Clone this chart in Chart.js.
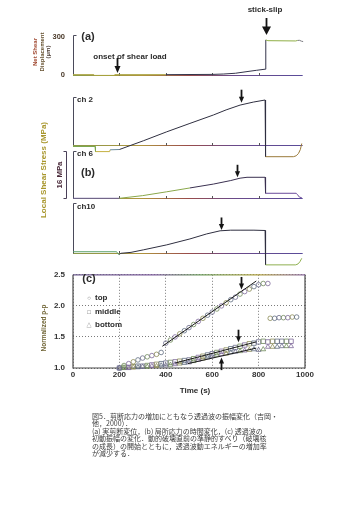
<!DOCTYPE html>
<html lang="ja">
<head>
<meta charset="utf-8">
<title>剪断応力の増加にともなう透過波の振幅変化</title>
<script src="https://cdn.jsdelivr.net/npm/chart.js@4.4.1/dist/chart.umd.min.js"></script>
<style>
  html, body { margin: 0; padding: 0; background: #fff; }
  #fig { position: relative; width: 338px; height: 507px; overflow: hidden;
         font-family: "Liberation Sans", Arial, sans-serif; font-weight: bold; color: #2b2b2b; }
  #fig canvas { position: absolute; }
  .lbl { position: absolute; white-space: nowrap; line-height: 1; }
  .mid { transform: translate(-50%, -50%); }
  .rot { transform: translate(-50%, -50%) rotate(-90deg); }
  .vl  { transform: translateY(-50%); }
  #caption { position: absolute; left: 92px; top: 413px; white-space: nowrap;
             font-family: "Noto Sans CJK JP", sans-serif; font-weight: 400;
             font-size: 7px; line-height: 7.45px; color: #3c3c3c; }
</style>
</head>
<body>
<div id="fig">
  <!-- panel (a) -->
  <div class="lbl mid" style="left:265px;top:10px;font-size:8px">stick-slip</div>
  <div class="lbl mid" style="left:130px;top:57px;font-size:8px">onset of shear load</div>
  <div class="lbl mid" style="left:88px;top:36px;font-size:11px">(a)</div>
  <div class="lbl rot" style="left:42px;top:52px;font-size:6px;line-height:6.7px;text-align:center">
    <span style="color:#a04830">Net Shear</span><br><span style="color:#65502e">Displacement</span><br><span style="color:#4a3a30">(µm)</span>
  </div>

  <!-- panel (b) -->
  <div class="lbl vl" style="left:77px;top:100px;font-size:8px">ch 2</div>
  <div class="lbl vl" style="left:77px;top:154px;font-size:8px">ch 6</div>
  <div class="lbl mid" style="left:88px;top:172px;font-size:11px">(b)</div>
  <div class="lbl vl" style="left:77px;top:207px;font-size:8px">ch10</div>
  <div class="lbl rot" style="left:60px;top:175px;font-size:7.8px;color:#4a2a3a">16 MPa</div>
  <div class="lbl rot" style="left:44px;top:170px;font-size:8px;color:#a8962c">Local Shear Stress (MPa)</div>

  <!-- panel (c) -->
  <div class="lbl mid" style="left:89px;top:278px;font-size:11px">(c)</div>
  <div class="lbl mid" style="left:89px;top:298px;font-size:6px;font-weight:normal;color:#555">○</div>
  <div class="lbl vl" style="left:95px;top:298px;font-size:8px">top</div>
  <div class="lbl mid" style="left:89px;top:311.5px;font-size:6px;font-weight:normal;color:#555">□</div>
  <div class="lbl vl" style="left:95px;top:311.5px;font-size:8px">middle</div>
  <div class="lbl mid" style="left:89px;top:324.5px;font-size:6px;font-weight:normal;color:#555">△</div>
  <div class="lbl vl" style="left:95px;top:324.5px;font-size:8px">bottom</div>
  <div class="lbl rot" style="left:44px;top:328px;font-size:6.5px;color:#6f6434">Normalized p-p</div>
  <div class="lbl mid" style="left:195px;top:391px;font-size:8px">Time (s)</div>

  <div id="caption">図5．剪断応力の増加にともなう透過波の振幅変化（吉岡・<br>他，2000）．<br>(a) 実剪断変位，(b) 局所応力の時間変化，(c) 透過波の<br>初動振幅の変化．動的破壊直前の準静的すべり（破壊核<br>の成長）の開始とともに，透過波動エネルギーの増加率<br>が減少する．</div>
</div>

<script>
// ---------- time axis (s) ----------
const timeTicks = [0, 200, 400, 600, 800, 1000];
const baseTicks = [200, 400, 600, 800];

// ---------- (a) net shear displacement (µm) ----------
const dispTicks = [0, 300];
const dispTime  = [0, 90, 92, 178, 180, 400, 600, 650, 700, 750, 790, 828, 831, 840, 960, 968, 976, 985, 992];
const dispValue = [0, 0, -6, -6, 0, 0, 2, 5, 11, 24, 34, 43, 274, 268, 266, 270, 271, 264, 261];

// ---------- (b) local shear stress (MPa) ----------
const ch2Time   = [0, 95, 97, 158, 160, 200, 303, 404, 504, 605, 660, 720, 777, 828, 830, 950, 962, 972, 980, 986];
const ch2Stress = [-0.5, -0.5, -2.2, -2.2, -1.6, -1.5, 1.4, 4.4, 7.2, 10.0, 11.7, 13.3, 14.3, 15.0, -3.9, -3.9, -3.6, -2.8, -1.5, 0.5];
const ch6Time   = [0, 200, 300, 404, 504, 605, 680, 720, 750, 828, 830, 962, 968, 976, 986];
const ch6Stress = [0, 0, 0.9, 2.2, 3.5, 4.8, 6.0, 6.8, 7.1, 7.1, 1.7, 1.7, 1.2, 0.4, 0.2];
const ch10Time   = [0, 188, 194, 200, 206, 250, 303, 404, 504, 576, 634, 680, 720, 780, 828, 830, 960, 970, 978, 986];
const ch10Stress = [0.5, 0.5, -0.2, -0.4, 0.0, 0.3, 1.1, 2.7, 4.6, 6.2, 7.2, 7.4, 7.4, 7.4, 7.3, -3.7, -3.7, -3.4, -2.7, -1.6];
const scaleBarMPa = 16;

// ---------- (c) normalized peak-to-peak amplitude ----------
const ppTicks = [1.0, 1.5, 2.0, 2.5];
const topTime = [200, 220, 240, 260, 280, 300, 320, 340, 360, 380, 400, 420, 440, 460, 480, 500, 520,
                 540, 560, 580, 600, 620, 640, 660, 680, 700, 720, 740, 760, 780, 800, 820, 840,
                 850, 869, 888, 907, 926, 945, 964];
const topAmp  = [1.00, 1.04, 1.07, 1.10, 1.13, 1.16, 1.18, 1.20, 1.22, 1.25, 1.40, 1.45, 1.50, 1.55, 1.60, 1.65, 1.70,
                 1.75, 1.80, 1.85, 1.90, 1.95, 2.00, 2.05, 2.10, 2.14, 2.19, 2.23, 2.27, 2.31, 2.34, 2.36, 2.36,
                 1.80, 1.80, 1.81, 1.81, 1.81, 1.82, 1.82];
const midTime = [200, 220, 240, 260, 280, 300, 320, 340, 360, 380, 400, 420, 440, 460, 480, 500, 520, 540, 560,
                 580, 600, 620, 640, 660, 680, 700, 720, 740, 760, 780, 800, 820, 840, 860, 880, 900, 920, 940];
const midAmp  = [1.00, 1.01, 1.01, 1.02, 1.03, 1.03, 1.04, 1.05, 1.06, 1.07, 1.08, 1.09, 1.10, 1.11, 1.12, 1.13, 1.15, 1.17, 1.19,
                 1.21, 1.23, 1.25, 1.27, 1.29, 1.31, 1.33, 1.35, 1.37, 1.39, 1.40, 1.42, 1.43, 1.42, 1.43, 1.43, 1.43, 1.43, 1.43];
const botTime = [200, 220, 240, 260, 280, 300, 320, 340, 360, 380, 400, 420, 440, 460, 480, 500, 520, 540, 560,
                 580, 600, 620, 640, 660, 680, 700, 720, 740, 760, 780, 800, 820, 840, 860, 880, 900, 920, 940];
const botAmp  = [1.00, 1.00, 1.00, 1.01, 1.01, 1.02, 1.02, 1.03, 1.03, 1.04, 1.04, 1.05, 1.06, 1.07, 1.08, 1.09, 1.11, 1.13, 1.15,
                 1.17, 1.19, 1.21, 1.22, 1.23, 1.25, 1.26, 1.27, 1.28, 1.29, 1.30, 1.29, 1.30, 1.34, 1.34, 1.34, 1.35, 1.35, 1.35];
const topFitTime = [385, 790],  topFitAmp = [1.35, 2.40];
const midFitTime = [440, 790],  midFitAmp = [1.08, 1.42];
const botFitTime = [495, 790],  botFitAmp = [1.07, 1.32];

// ---------- event times (s) ----------
const onsetTime = 190, slipTime = 832;
const stressArrowTime = [723, 708, 636];   // ch2, ch6, ch10
const ppArrowTime = [724, 710, 636];       // top, middle, bottom

// ---------- drawing ----------
Chart.defaults.font.family = '"Liberation Sans", Arial, sans-serif';
Chart.defaults.font.weight = 'bold';
Chart.defaults.font.size = 8;
Chart.defaults.color = '#333';

const fig = document.getElementById('fig');
const CANVAS_LEFT = 40, CANVAS_WIDTH = 280, PLOT_LEFT = 73, PLOT_RIGHT = 305;
const AXIS_W = PLOT_LEFT - CANVAS_LEFT, RIGHT_PAD = CANVAS_LEFT + CANVAS_WIDTH - PLOT_RIGHT;
const baselineStops = [[0, '#8a9a4a'], [0.3, '#b0943e'], [0.5, '#9a4c4a'], [0.7, '#6a4a8a'], [1, '#5a4c9a']];

function pts(xs, ys) { return xs.map((x, i) => ({ x, y: ys[i] })); }

function addCanvas(top, height) {
  const c = document.createElement('canvas');
  c.width = CANVAS_WIDTH; c.height = height;
  c.style.left = CANVAS_LEFT + 'px'; c.style.top = top + 'px';
  c.style.width = CANVAS_WIDTH + 'px'; c.style.height = height + 'px';
  fig.insertBefore(c, fig.firstChild);
  return c;
}

function bandColor(bands) {
  return ctx => {
    const x = ctx.p0.parsed.x;
    let col = bands[0][1];
    for (const [from, c] of bands) if (x >= from) col = c;
    return col;
  };
}

function drawArrow(ctx, x, yTip, dir, len, head, half) {
  ctx.fillStyle = '#151515'; ctx.strokeStyle = '#151515'; ctx.lineWidth = 1.8;
  ctx.beginPath(); ctx.moveTo(x, yTip - dir * len); ctx.lineTo(x, yTip - dir * (head - 1)); ctx.stroke();
  ctx.beginPath(); ctx.moveTo(x, yTip); ctx.lineTo(x - half, yTip - dir * head); ctx.lineTo(x + half, yTip - dir * head);
  ctx.closePath(); ctx.fill();
}

// axis decorations: zero line with small time ticks, "[" bracket, scale bar, plot box, arrows
function decorPlugin(cfg) {
  return {
    id: 'decor',
    beforeDatasetsDraw(chart) {
      const { ctx } = chart, xs = chart.scales.x, ys = chart.scales.y;
      ctx.save();
      ctx.lineWidth = 1;
      if (cfg.baseline) {
        const y0 = Math.round(ys.getPixelForValue(0)) + 0.5;
        const xa = xs.getPixelForValue(0), xb = xs.getPixelForValue(cfg.baseline);
        const g = ctx.createLinearGradient(xa, 0, xb, 0);
        baselineStops.forEach(([o, c]) => g.addColorStop(o, c));
        ctx.strokeStyle = g;
        ctx.beginPath(); ctx.moveTo(xa, y0); ctx.lineTo(xb, y0); ctx.stroke();
        ctx.strokeStyle = '#555';
        (cfg.ticks || []).forEach(t => {
          const x = Math.round(xs.getPixelForValue(t)) + 0.5;
          ctx.beginPath(); ctx.moveTo(x, y0); ctx.lineTo(x, y0 - 2.5); ctx.stroke();
        });
      }
      if (cfg.bracket != null) {
        const x = Math.round(xs.getPixelForValue(0)) + 0.5;
        const yb = ys.getPixelForValue(0), yt = Math.round(ys.getPixelForValue(cfg.bracket)) + 0.5;
        ctx.strokeStyle = '#4a4a5a';
        ctx.beginPath(); ctx.moveTo(x + 3, yt); ctx.lineTo(x, yt); ctx.lineTo(x, yb); ctx.stroke();
      }
      if (cfg.scaleBar != null) {
        const x = Math.round(xs.getPixelForValue(0)) - 6.5;
        const yb = Math.round(ys.getPixelForValue(0)) + 0.5, yt = Math.round(ys.getPixelForValue(cfg.scaleBar)) + 0.5;
        ctx.strokeStyle = '#4a4058';
        ctx.beginPath(); ctx.moveTo(x - 3, yt); ctx.lineTo(x, yt); ctx.lineTo(x, yb); ctx.lineTo(x - 3, yb); ctx.stroke();
      }
      if (cfg.box) {
        const a = chart.chartArea;
        ctx.lineWidth = 1.2;
        ctx.strokeStyle = '#4a4a4a';
        ctx.beginPath();
        ctx.moveTo(a.left, a.top); ctx.lineTo(a.left, a.bottom); ctx.lineTo(a.right, a.bottom); ctx.lineTo(a.right, a.top);
        ctx.stroke();
        const g = ctx.createLinearGradient(a.left, 0, a.right, 0);
        [[0, '#6a5a8a'], [0.35, '#7a5a9a'], [0.55, '#6a9a5a'], [0.8, '#b0a040'], [1, '#8a6aa0']].forEach(([o, c]) => g.addColorStop(o, c));
        ctx.strokeStyle = g;
        ctx.beginPath(); ctx.moveTo(a.left, a.top); ctx.lineTo(a.right, a.top); ctx.stroke();
      }
      ctx.restore();
    },
    afterDatasetsDraw(chart) {
      const { ctx } = chart, xs = chart.scales.x, ys = chart.scales.y;
      ctx.save();
      (cfg.arrows || []).forEach(a =>
        drawArrow(ctx, Math.round(xs.getPixelForValue(a.x)) + 0.5, ys.getPixelForValue(a.y),
                  a.dir, a.len, a.head || 6, a.half || 2.6));
      ctx.restore();
    }
  };
}

function baseOptions(padding) {
  return {
    responsive: false, animation: false, events: [],
    layout: { padding },
    plugins: { legend: { display: false }, tooltip: { enabled: false } }
  };
}

// one time-series trace panel; zeroPx / pxPerUnit place the value axis on the page
function tracePanel(p) {
  const padTop = p.padTop || 0, padBottom = p.padBottom || 0;
  const canvas = addCanvas(p.areaTop - padTop, p.areaBottom - p.areaTop + padTop + padBottom);
  const yMin = -(p.areaBottom - p.zeroPx) / p.pxPerUnit;
  const yMax = (p.zeroPx - p.areaTop) / p.pxPerUnit;
  const y = p.yTicks ? {
    type: 'linear', min: yMin, max: yMax,
    afterBuildTicks: s => { s.ticks = p.yTicks.map(v => ({ value: v })); },
    afterFit: s => { s.width = AXIS_W; },
    grid: { display: false, drawTicks: false }, border: { display: false },
    ticks: { padding: 8, color: '#4a3a2a', font: { size: 7.5, weight: 'bold' }, callback: v => String(v) }
  } : { type: 'linear', min: yMin, max: yMax, display: false };
  const opts = baseOptions({ left: p.yTicks ? 0 : AXIS_W, right: RIGHT_PAD, top: padTop, bottom: padBottom });
  opts.scales = { x: { type: 'linear', min: 0, max: 1000, display: false }, y };
  return new Chart(canvas, {
    type: 'scatter',
    data: { datasets: [{
      data: pts(p.time, p.value), showLine: true, pointRadius: 0, borderWidth: 1,
      borderColor: '#2f2f40', segment: { borderColor: bandColor(p.bands) }, clip: false
    }] },
    options: opts,
    plugins: [decorPlugin(p.decor)]
  });
}

// (a)
tracePanel({
  areaTop: 18, areaBottom: 86, padTop: 6, padBottom: 6, zeroPx: 80, pxPerUnit: 47 / 300,
  yTicks: dispTicks, time: dispTime, value: dispValue,
  bands: [[0, '#a8a23e'], [185, '#34344a'], [830, '#8fae45'], [962, '#7a7a80']],
  decor: { baseline: 990, ticks: baseTicks, bracket: 310,
           arrows: [{ x: onsetTime, y: 13, dir: 1, len: 15, head: 7, half: 3 },
                    { x: slipTime, y: 313, dir: 1, len: 17, head: 8.5, half: 4.5 }] }
});

// (b) ch 2
tracePanel({
  areaTop: 86, areaBottom: 168, zeroPx: 145, pxPerUnit: 3.0,
  time: ch2Time, value: ch2Stress,
  bands: [[0, '#7aa850'], [96, '#c4b040'], [159, '#6a8a9a'], [200, '#2f2f40'], [829, '#9a7a3a']],
  decor: { baseline: 990, ticks: baseTicks, bracket: scaleBarMPa,
           arrows: [{ x: stressArrowTime[0], y: 14.1, dir: 1, len: 13 }] }
});

// (b) ch 6
tracePanel({
  areaTop: 140, areaBottom: 206, zeroPx: 198.3, pxPerUnit: 2.96,
  time: ch6Time, value: ch6Stress,
  bands: [[0, '#6a5a9a'], [200, '#8aa84a'], [500, '#3a3050'], [829, '#6a4a9a']],
  decor: { baseline: 990, ticks: baseTicks, bracket: scaleBarMPa, scaleBar: scaleBarMPa,
           arrows: [{ x: stressArrowTime[1], y: 7.1, dir: 1, len: 12.5 }] }
});

// (b) ch10
tracePanel({
  areaTop: 194, areaBottom: 272, zeroPx: 253.3, pxPerUnit: 3.125,
  time: ch10Time, value: ch10Stress,
  bands: [[0, '#5aa06a'], [200, '#2f2f40'], [829, '#8fb050']],
  decor: { baseline: 990, ticks: baseTicks, bracket: scaleBarMPa,
           arrows: [{ x: stressArrowTime[2], y: 7.46, dir: 1, len: 12.5 }] }
});

// (c)
(function () {
  const canvas = addCanvas(262, 140);
  const palette = ['#6c6c8c', '#708a5a', '#7f6a9a', '#8a8a55', '#5f6d80'];
  const marker = (style, r) => ({
    showLine: false, pointStyle: style, pointRadius: r, pointBorderWidth: 0.8,
    pointBackgroundColor: 'rgba(0,0,0,0)',
    pointBorderColor: ctx => palette[ctx.dataIndex % palette.length], clip: false
  });
  const fit = { showLine: true, pointRadius: 0, borderColor: '#1a1a1a', borderWidth: 1 };
  const opts = baseOptions({ left: 0, right: RIGHT_PAD, top: 7, bottom: 0 });
  const grid = { color: '#7a7a7a', lineWidth: 1, drawTicks: false };
  opts.scales = {
    x: {
      type: 'linear', min: 0, max: 1000,
      afterBuildTicks: s => { s.ticks = timeTicks.map(v => ({ value: v })); },
      afterFit: s => { s.height = 34; },
      grid, border: { display: false, dash: [1, 2] },
      ticks: { padding: 2, color: '#333', maxRotation: 0, autoSkip: false,
               font: { size: 8, weight: 'bold' }, callback: v => String(v) }
    },
    y: {
      type: 'linear', min: 1, max: 2.5,
      afterBuildTicks: s => { s.ticks = ppTicks.map(v => ({ value: v })); },
      afterFit: s => { s.width = AXIS_W; },
      grid, border: { display: false, dash: [1, 2] },
      ticks: { padding: 8, color: '#333', font: { size: 8, weight: 'bold' }, callback: v => Number(v).toFixed(1) }
    }
  };
  new Chart(canvas, {
    type: 'scatter',
    data: { datasets: [
      Object.assign({ data: pts(topFitTime, topFitAmp) }, fit),
      Object.assign({ data: pts(midFitTime, midFitAmp) }, fit),
      Object.assign({ data: pts(botFitTime, botFitAmp) }, fit),
      Object.assign({ data: pts(topTime, topAmp) }, marker('circle', 2.3)),
      Object.assign({ data: pts(midTime, midAmp) }, marker('rect', 3.1)),
      Object.assign({ data: pts(botTime, botAmp) }, marker('triangle', 2.8))
    ] },
    options: opts,
    plugins: [decorPlugin({ box: true, arrows: [
      { x: ppArrowTime[0], y: 2.264, dir: 1, len: 12.5 },
      { x: ppArrowTime[1], y: 1.415, dir: 1, len: 12.5 },
      { x: ppArrowTime[2], y: 1.167, dir: -1, len: 12.5 }
    ] })]
  });
})();
</script>
</body>
</html>
